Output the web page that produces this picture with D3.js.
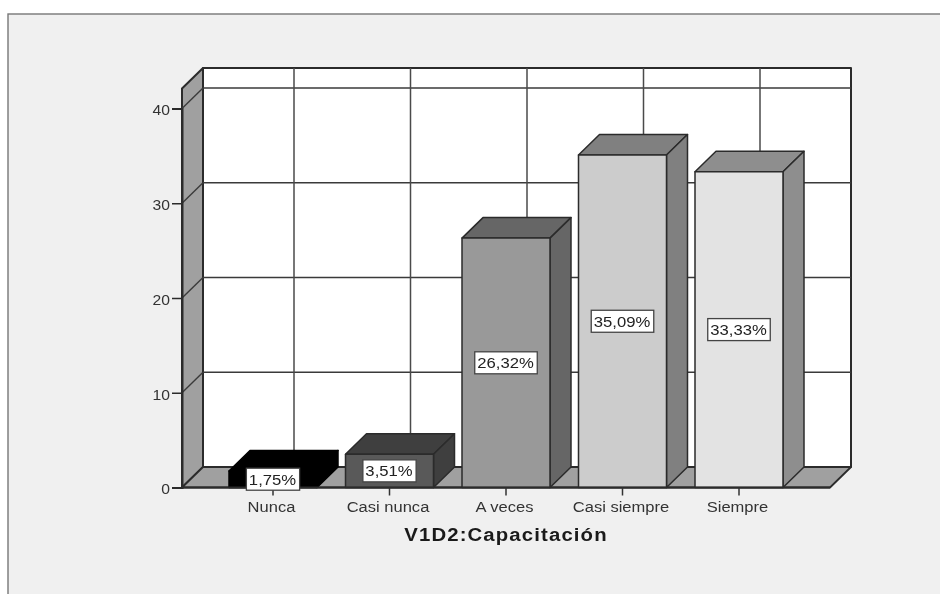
<!DOCTYPE html>
<html><head><meta charset="utf-8">
<script src="https://cdn.jsdelivr.net/npm/d3@7"></script>
<style>html,body{margin:0;padding:0;background:#fff;overflow:hidden}svg{display:block;filter:blur(0.35px)}text{font-family:"Liberation Sans",Arial,sans-serif}</style>
</head><body><svg id="c" width="940" height="594"></svg>
<script>
const categories = ["Nunca","Casi nunca","A veces","Casi siempre","Siempre"];
const values = [1.75,3.51,26.32,35.09,33.33];
const yTicks = [0,10,20,30,40];
const frontColors = ["#000000","#595959","#999999","#cccccc","#e3e3e3"];
const shadeColors = ["#000000","#3f3f3f","#666666","#808080","#8e8e8e"];
const xTitle = "V1D2:Capacitación";

(function(){
const svg = d3.select("#c");
const dx = 21, dy = -20.5, line = "#2b2b2b";
const y = d3.scaleLinear().domain([0,40]).range([487.5,108.5]);
const bw = 88, step = 116.5, x0 = 229;
const bx = d3.scalePoint().domain(categories).range([x0, x0+4*step]);
const leftX = 182, rightX = 830;

const stretch = (sel,k)=>sel.each(function(){
  const n=this.getComputedTextLength();
  d3.select(this).attr("textLength",n*k).attr("lengthAdjust","spacingAndGlyphs");
});

// page panel
svg.append("rect").attr("x",8).attr("y",14).attr("width",940).attr("height",600)
  .attr("fill","#f0f0f0").attr("stroke","#777").attr("stroke-width",1.4);

const poly = (pts,fill,sw=1.6,stroke=line)=>svg.append("polygon")
  .attr("points",pts.map(p=>p.join(",")).join(" ")).attr("fill",fill)
  .attr("stroke",stroke).attr("stroke-width",sw).attr("stroke-linejoin","round");
const seg = (a,b,w=1.4,c="#3a3a3a")=>svg.append("line").attr("x1",a[0]).attr("y1",a[1]).attr("x2",b[0]).attr("y2",b[1])
  .attr("stroke",c).attr("stroke-width",w);

const wallTop = y(40)-20;
// back wall
poly([[leftX+dx,wallTop+dy],[rightX+dx,wallTop+dy],[rightX+dx,y(0)+dy],[leftX+dx,y(0)+dy]],"#ffffff",2);
// left wall
poly([[leftX,y(0)],[leftX+dx,y(0)+dy],[leftX+dx,wallTop+dy],[leftX,wallTop]],"#a0a0a0",2);
// floor
poly([[leftX,y(0)],[leftX+dx,y(0)+dy],[rightX+dx,y(0)+dy],[rightX,y(0)]],"#a0a0a0",1.8);

// gridlines
yTicks.filter(t=>t>0).forEach(t=>{
  seg([leftX,y(t)],[leftX+dx,y(t)+dy],1.4);
  seg([leftX+dx,y(t)+dy],[rightX+dx,y(t)+dy],1.5);
});
categories.forEach(c=>{
  const cx = bx(c)+bw/2+dx;
  seg([cx,wallTop+dy],[cx,y(0)+dy],1.5,"#4a4a4a");
});

// y axis
const yAxis = svg.append("g").attr("transform",`translate(${leftX},0)`)
  .call(d3.axisLeft(y).tickValues(yTicks).tickSize(10).tickPadding(2).tickFormat(d3.format("d")));
yAxis.select(".domain").attr("stroke",line).attr("stroke-width",2);
yAxis.selectAll(".tick line").attr("stroke",line).attr("stroke-width",1.5);
yAxis.selectAll("text").attr("fill","#333").style("font-size","14px").style("font-family","'Liberation Sans'").attr("dy","0.45em")
  .call(stretch,1.12);

// bars
categories.forEach((c,i)=>{
  const X = bx(c), Y = y(values[i]), B = y(0), s = i===0?"#000":line;
  poly([[X,Y],[X+dx,Y+dy],[X+bw+dx,Y+dy],[X+bw,Y]],shadeColors[i],1.5,s);
  poly([[X+bw,Y],[X+bw+dx,Y+dy],[X+bw+dx,B+dy],[X+bw,B]],shadeColors[i],1.5,s);
  poly([[X,Y],[X+bw,Y],[X+bw,B],[X,B]],frontColors[i],1.5,s);
});
// front floor line
seg([leftX,y(0)],[rightX,y(0)],1.8,line);

// x ticks and labels
categories.forEach(c=>{
  const cx = bx(c)+bw/2;
  seg([cx,y(0)],[cx,y(0)+8],1.5,"#333");
  svg.append("text").attr("x",cx-1.5).attr("y",511.5).attr("text-anchor","middle")
    .attr("fill","#333").style("font-size","14px").text(c).call(stretch,1.18);
});

// value labels
const fmt = v => v.toFixed(2).replace(".",",")+"%";
categories.forEach((c,i)=>{
  const cx = bx(c)+bw/2, cy = (y(values[i])+y(0))/2;
  const box = svg.append("rect").attr("y",cy-11).attr("height",22)
    .attr("fill","#fff").attr("stroke","#444").attr("stroke-width",1.3);
  const t = svg.append("text").attr("x",cx-0.5).attr("y",cy+5.5).attr("text-anchor","middle")
    .attr("fill","#222").style("font-size","14px").text(fmt(values[i]));
  const w = t.node().getComputedTextLength()*1.19;
  t.call(stretch,1.19);
  box.attr("x",cx-w/2-3).attr("width",w+6);
});

// axis title
svg.append("text").attr("x",506).attr("y",541).attr("text-anchor","middle").attr("fill","#1a1a1a")
  .style("font-size","18px").style("font-weight","bold").style("letter-spacing","1px").text(xTitle).call(stretch,1.13);
})();
</script></body></html>
